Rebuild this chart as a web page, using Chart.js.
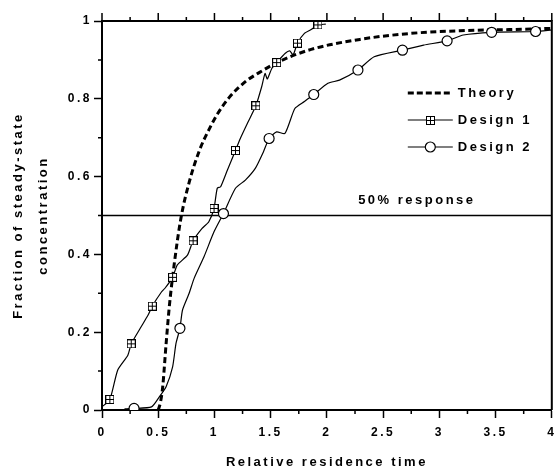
<!DOCTYPE html>
<html>
<head>
<meta charset="utf-8">
<script src="https://cdn.jsdelivr.net/npm/chart.js@4.4.0/dist/chart.umd.min.js"></script>
<style>
    html, body { margin: 0; padding: 0; background: #fff; }
    #wrap { width: 558px; height: 473px; }
</style>
</head>
<body>
<div id="wrap"><canvas id="rtdChart" width="558" height="473"></canvas></div>
<script>
// values
const theoryX = [0.50, 0.52, 0.54, 0.57, 0.60, 0.64, 0.70, 0.775, 0.87, 0.95, 1.025, 1.13, 1.275, 1.39, 1.57, 1.86, 2.30, 2.74, 3.18, 3.62, 4.00];
const theoryY = [0.00, 0.02, 0.06, 0.17, 0.27, 0.37, 0.49, 0.585, 0.67, 0.72, 0.76, 0.803, 0.844, 0.866, 0.895, 0.927, 0.953, 0.968, 0.975, 0.978, 0.981];

const design1X = [0.00, 0.07, 0.14, 0.23, 0.26, 0.34, 0.41, 0.447, 0.53, 0.56, 0.628, 0.67, 0.76, 0.81, 0.89, 0.95, 0.996, 1.025, 1.055, 1.11, 1.187, 1.23, 1.30, 1.368, 1.42, 1.45, 1.47, 1.51, 1.553, 1.63, 1.67, 1.70, 1.738, 1.80, 1.86, 1.92, 1.99];
const design1Y = [0.008, 0.027, 0.103, 0.141, 0.17, 0.21, 0.244, 0.267, 0.304, 0.313, 0.341, 0.373, 0.398, 0.435, 0.467, 0.484, 0.518, 0.57, 0.574, 0.613, 0.667, 0.698, 0.741, 0.782, 0.831, 0.865, 0.851, 0.878, 0.893, 0.917, 0.923, 0.913, 0.943, 0.968, 0.978, 0.99, 0.992];
const design1MarkX = [0.07, 0.26, 0.447, 0.628, 0.81, 0.996, 1.187, 1.368, 1.553, 1.738, 1.92];
const design1MarkY = [0.027, 0.17, 0.267, 0.341, 0.435, 0.518, 0.667, 0.782, 0.893, 0.943, 0.99];

const design2X = [0.20, 0.285, 0.44, 0.51, 0.57, 0.628, 0.658, 0.693, 0.716, 0.775, 0.82, 0.907, 0.996, 1.08, 1.187, 1.275, 1.363, 1.436, 1.486, 1.553, 1.627, 1.715, 1.80, 1.883, 2.009, 2.112, 2.276, 2.42, 2.672, 2.86, 3.069, 3.213, 3.465, 3.856, 4.00];
const design2Y = [0.003, 0.004, 0.008, 0.034, 0.06, 0.111, 0.171, 0.21, 0.257, 0.30, 0.339, 0.394, 0.458, 0.505, 0.57, 0.591, 0.621, 0.664, 0.698, 0.715, 0.711, 0.775, 0.793, 0.811, 0.84, 0.848, 0.874, 0.908, 0.925, 0.938, 0.949, 0.964, 0.971, 0.973, 0.977];
const design2MarkX = [0.285, 0.693, 1.08, 1.486, 1.883, 2.276, 2.672, 3.069, 3.465, 3.856];
const design2MarkY = [0.004, 0.21, 0.505, 0.698, 0.811, 0.874, 0.925, 0.949, 0.971, 0.973];

const halfX = [0, 4];
const halfY = [0.5, 0.5];
const halfLabel = '50% response';
const halfLabelAt = [2.8, 0.54];

const seriesNames = ['Theory', 'Design 1', 'Design 2'];
const xTickLabels = ['0', '0.5', '1', '1.5', '2', '2.5', '3', '3.5', '4'];
const yTickLabels = ['0', '0.2', '0.4', '0.6', '0.8', '1'];

const FONT = '"Liberation Sans", Arial, Helvetica, sans-serif';
const pts = (xs, ys) => xs.map((x, i) => ({ x: x, y: ys[i] }));

// square with a cross inside, used as the Design 1 marker
function boxCross(size) {
    const c = document.createElement('canvas');
    c.width = size; c.height = size;
    const g = c.getContext('2d');
    g.fillStyle = '#fff';
    g.fillRect(0, 0, size, size);
    g.strokeStyle = '#000';
    g.lineWidth = 1;
    g.strokeRect(0.5, 0.5, size - 1, size - 1);
    const m = Math.floor(size / 2) + 0.5;
    g.beginPath();
    g.moveTo(m, 0.5); g.lineTo(m, size - 0.5);
    g.moveTo(0.5, m); g.lineTo(size - 0.5, m);
    g.stroke();
    return c;
}
const boxMarker = boxCross(9);

// wide tracking like the original lettering
const spacing = {
    id: 'spacing',
    beforeUpdate(chart) { chart.ctx.letterSpacing = '2.5px'; },
    beforeDraw(chart) { chart.ctx.letterSpacing = '2.5px'; }
};

// top/right frame plus the minor ticks
const frame = {
    id: 'frame',
    afterDraw(chart) {
        const { ctx, chartArea: a, scales: { x, y } } = chart;
        ctx.save();
        ctx.strokeStyle = '#000';
        ctx.lineWidth = 2;
        ctx.beginPath();
        ctx.moveTo(a.left - 1, a.top);
        ctx.lineTo(a.right, a.top);
        ctx.lineTo(a.right, a.bottom);
        ctx.stroke();

        ctx.lineWidth = 1.5;
        ctx.beginPath();
        for (let i = 0; i <= 16; i++) {
            const v = i * 0.25;
            const px = x.getPixelForValue(v);
            const major = i % 2 === 0;
            ctx.moveTo(px, a.top);
            ctx.lineTo(px, a.top - (major ? 8 : 4));
            if (!major) {
                ctx.moveTo(px, a.bottom);
                ctx.lineTo(px, a.bottom + 4);
            }
        }
        for (let i = 1; i < 10; i += 2) {
            const py = y.getPixelForValue(i / 10);
            ctx.moveTo(a.left, py);
            ctx.lineTo(a.left - 4, py);
        }
        ctx.stroke();
        ctx.restore();
    }
};

// legend inside the plot and the 50% label
const notes = {
    id: 'notes',
    afterDraw(chart) {
        const { ctx, chartArea: a, scales: { x, y } } = chart;
        ctx.save();
        ctx.letterSpacing = '2.5px';
        ctx.font = 'bold 13px ' + FONT;
        ctx.fillStyle = '#000';
        ctx.textBaseline = 'middle';

        ctx.textAlign = 'center';
        ctx.fillText(halfLabel, x.getPixelForValue(halfLabelAt[0]), y.getPixelForValue(halfLabelAt[1]));

        const x0 = a.right - 144;
        const x1 = x0 + 45;
        const rows = [a.top + 72, a.top + 99, a.top + 126];
        ctx.textAlign = 'left';
        ctx.strokeStyle = '#000';
        rows.forEach((ry, i) => {
            ctx.beginPath();
            if (i === 0) {
                ctx.lineWidth = 3;
                ctx.setLineDash([6, 3]);
            } else {
                ctx.lineWidth = 1.2;
                ctx.setLineDash([]);
            }
            ctx.moveTo(x0, ry);
            ctx.lineTo(x1, ry);
            ctx.stroke();
            ctx.setLineDash([]);
            const cx = (x0 + x1) / 2;
            if (i === 1) {
                ctx.drawImage(boxMarker, Math.round(cx - 4.5), Math.round(ry - 4.5));
            } else if (i === 2) {
                ctx.beginPath();
                ctx.arc(cx, ry, 5, 0, Math.PI * 2);
                ctx.fillStyle = '#fff';
                ctx.fill();
                ctx.lineWidth = 1.2;
                ctx.stroke();
                ctx.fillStyle = '#000';
            }
            ctx.fillText(seriesNames[i], x1 + 5, ry);
        });
        ctx.restore();
    }
};

const ctx = document.getElementById('rtdChart').getContext('2d');
const chart = new Chart(ctx, {
    type: 'line',
    data: {
        datasets: [
            {
                label: seriesNames[0],
                data: pts(theoryX, theoryY),
                borderColor: '#000',
                borderWidth: 3,
                borderDash: [6, 3.5],
                pointRadius: 0,
                cubicInterpolationMode: 'monotone',
                order: 3
            },
            {
                label: seriesNames[1],
                data: pts(design1X, design1Y),
                borderColor: '#000',
                borderWidth: 1.2,
                pointRadius: 0,
                tension: 0.2,
                order: 4
            },
            {
                label: seriesNames[1] + ' markers',
                data: pts(design1MarkX, design1MarkY),
                showLine: false,
                pointStyle: boxMarker,
                pointRadius: 5,
                order: 1
            },
            {
                label: seriesNames[2],
                data: pts(design2X, design2Y),
                borderColor: '#000',
                borderWidth: 1.2,
                pointRadius: 0,
                tension: 0.2,
                order: 4
            },
            {
                label: seriesNames[2] + ' markers',
                data: pts(design2MarkX, design2MarkY),
                showLine: false,
                pointStyle: 'circle',
                pointRadius: 5,
                borderColor: '#000',
                borderWidth: 1.2,
                backgroundColor: '#fff',
                order: 0
            },
            {
                label: halfLabel,
                data: pts(halfX, halfY),
                borderColor: '#000',
                borderWidth: 1.5,
                pointRadius: 0,
                order: 5
            }
        ]
    },
    options: {
        responsive: false,
        animation: false,
        events: [],
        layout: { padding: { top: 21, right: 2, left: 0, bottom: 0 } },
        plugins: {
            legend: { display: false },
            tooltip: { enabled: false }
        },
        scales: {
            x: {
                type: 'linear',
                min: 0,
                max: 4,
                afterFit: s => { s.height = 63; s.paddingLeft = 0; s.paddingRight = 0; },
                ticks: {
                    stepSize: 0.5,
                    color: '#000',
                    padding: 7,
                    maxRotation: 0,
                    font: { family: FONT, size: 12, weight: 'bold' },
                    callback: (v, i) => xTickLabels[i]
                },
                grid: {
                    drawOnChartArea: false,
                    drawTicks: true,
                    tickLength: 8,
                    tickColor: '#000',
                    tickWidth: 1.5
                },
                border: { color: '#000', width: 2 },
                title: {
                    display: true,
                    text: 'Relative residence time',
                    color: '#000',
                    padding: { top: 0, bottom: 3 },
                    font: { family: FONT, size: 13, weight: 'bold' }
                }
            },
            y: {
                min: 0,
                max: 1,
                afterFit: s => { s.width = 102; s.paddingTop = 0; s.paddingBottom = 0; },
                ticks: {
                    stepSize: 0.2,
                    color: '#000',
                    padding: 2,
                    font: { family: FONT, size: 12, weight: 'bold' },
                    callback: (v, i) => yTickLabels[i]
                },
                grid: {
                    drawOnChartArea: false,
                    drawTicks: true,
                    tickLength: 8,
                    tickColor: '#000',
                    tickWidth: 1.5
                },
                border: { color: '#000', width: 2 },
                title: {
                    display: true,
                    text: ['Fraction of steady-state', 'concentration'],
                    color: '#000',
                    padding: { top: 6, bottom: 0 },
                    font: { family: FONT, size: 13, weight: 'bold', lineHeight: 1.9 }
                }
            }
        }
    },
    plugins: [spacing, frame, notes]
});
</script>
</body>
</html>
